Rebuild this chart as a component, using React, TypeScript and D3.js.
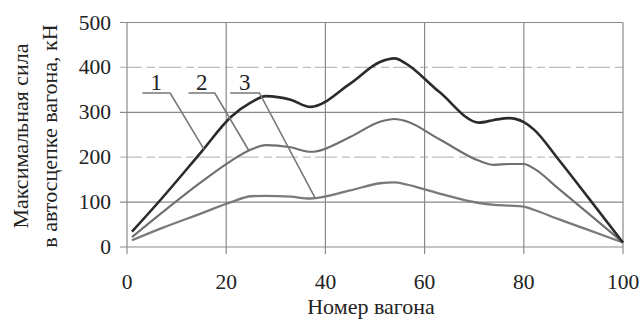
import React, { useEffect, useRef } from 'react';
import * as d3 from 'd3';

// wagon numbers shared by all three curves
const wagonNumbers = [1, 7, 15, 21, 25, 28, 33, 37, 45, 51, 54, 56, 63, 71, 74, 77, 80, 82, 87, 93, 100];
const force1 = [34, 108, 212, 290, 322, 336, 328, 312, 364, 412, 420, 410, 345, 277, 283, 287, 278, 262, 195, 110, 10];
const force2 = [22, 76, 145, 192, 217, 227, 222, 212, 245, 279, 285, 281, 240, 192, 183, 185, 185, 175, 130, 75, 10];
const force3 = [15, 42, 75, 100, 113, 114, 112, 108, 126, 142, 144, 140, 119, 98, 94, 92, 90, 83, 62, 38, 10];

const xTicks = [0, 20, 40, 60, 80, 100];
const yTicks = [0, 100, 200, 300, 400, 500];

// curve labels with leader lines: horizontal shelf then a slant down to the curve
const labels = [
  { text: '1', x0: 3.1, x1: 8.7, y: 343, tx: 15.5, ty: 218 },
  { text: '2', x0: 12.4, x1: 17.7, y: 343, tx: 24.5, ty: 216 },
  { text: '3', x0: 20.8, x1: 26.7, y: 343, tx: 38, ty: 108 },
];

const App: React.FC = () => {
  const ref = useRef<SVGSVGElement | null>(null);

  useEffect(() => {
    const width = 643;
    const height = 324;
    const margin = { top: 22.5, right: 20, bottom: 77, left: 127 };

    const svg = d3.select(ref.current);
    svg.selectAll('*').remove();
    svg.attr('width', width).attr('height', height);

    svg.append('rect').attr('width', width).attr('height', height).attr('fill', '#fff');

    const x = d3.scaleLinear().domain([0, 100]).range([margin.left, width - margin.right]);
    const y = d3.scaleLinear().domain([0, 500]).range([height - margin.bottom, margin.top]);

    const font = '"Liberation Serif", "Times New Roman", serif';

    // grid (400 and 200 lines are faint and broken in the scan)
    const grid = svg.append('g');
    grid.selectAll('line.h')
      .data(yTicks)
      .enter().append('line')
      .attr('x1', x(0) - 7)
      .attr('x2', x(100))
      .attr('y1', d => y(d))
      .attr('y2', d => y(d))
      .attr('stroke', d => (d === 400 || d === 200 ? '#bdbdbd' : '#8a8a8a'))
      .attr('stroke-dasharray', d => (d === 400 || d === 200 ? '22 5 8 4' : null))
      .attr('stroke-width', 1.2);

    grid.selectAll('line.v')
      .data(xTicks)
      .enter().append('line')
      .attr('x1', d => x(d))
      .attr('x2', d => x(d))
      .attr('y1', y(500))
      .attr('y2', y(0) + 7)
      .attr('stroke', '#8a8a8a')
      .attr('stroke-width', 1.2);

    // tick labels
    svg.append('g').selectAll('text')
      .data(yTicks)
      .enter().append('text')
      .attr('x', x(0) - 16)
      .attr('y', d => y(d) + 7)
      .attr('text-anchor', 'end')
      .attr('font-family', font)
      .attr('font-size', 21.5)
      .attr('fill', '#222')
      .text(d => d);

    svg.append('g').selectAll('text')
      .data(xTicks)
      .enter().append('text')
      .attr('x', d => x(d))
      .attr('y', 289)
      .attr('text-anchor', 'middle')
      .attr('font-family', font)
      .attr('font-size', 21.5)
      .attr('fill', '#222')
      .text(d => d);

    // axis titles
    svg.append('text')
      .attr('x', 371)
      .attr('y', 314)
      .attr('text-anchor', 'middle')
      .attr('font-family', font)
      .attr('font-size', 22)
      .attr('fill', '#222')
      .text('Номер вагона');

    const yTitle = svg.append('text')
      .attr('transform', 'translate(0,136) rotate(-90)')
      .attr('text-anchor', 'middle')
      .attr('font-family', font)
      .attr('font-size', 22)
      .attr('fill', '#222');
    yTitle.append('tspan').attr('x', 0).attr('y', 28).text('Максимальная сила');
    yTitle.append('tspan').attr('x', 0).attr('y', 57).text('в автосцепке вагона, кН');

    // curves
    const line = d3.line<number>()
      .x((_, i) => x(wagonNumbers[i]))
      .y(d => y(d))
      .curve(d3.curveMonotoneX);

    const series = [
      { values: force3, color: '#7a7a7a', w: 2.3 },
      { values: force2, color: '#6f6f6f', w: 2.1 },
      { values: force1, color: '#2b2b2b', w: 2.6 },
    ];

    svg.append('g').selectAll('path')
      .data(series)
      .enter().append('path')
      .attr('d', d => line(d.values))
      .attr('fill', 'none')
      .attr('stroke', d => d.color)
      .attr('stroke-width', d => d.w)
      .attr('stroke-linejoin', 'round');

    // labels
    const lab = svg.append('g');
    lab.selectAll('path')
      .data(labels)
      .enter().append('path')
      .attr('d', d => `M${x(d.x0)},${y(d.y)}L${x(d.x1)},${y(d.y)}L${x(d.tx)},${y(d.ty)}`)
      .attr('fill', 'none')
      .attr('stroke', '#777')
      .attr('stroke-width', 1.6);

    lab.selectAll('text')
      .data(labels)
      .enter().append('text')
      .attr('x', d => (x(d.x0) + x(d.x1)) / 2)
      .attr('y', y(343) - 3)
      .attr('text-anchor', 'middle')
      .attr('font-family', font)
      .attr('font-size', 23)
      .attr('fill', '#222')
      .text(d => d.text);
  }, []);

  return (
    <div>
      <svg ref={ref} style={{ position: 'absolute', left: 0, top: 0 }}></svg>
    </div>
  );
};

export default App;
